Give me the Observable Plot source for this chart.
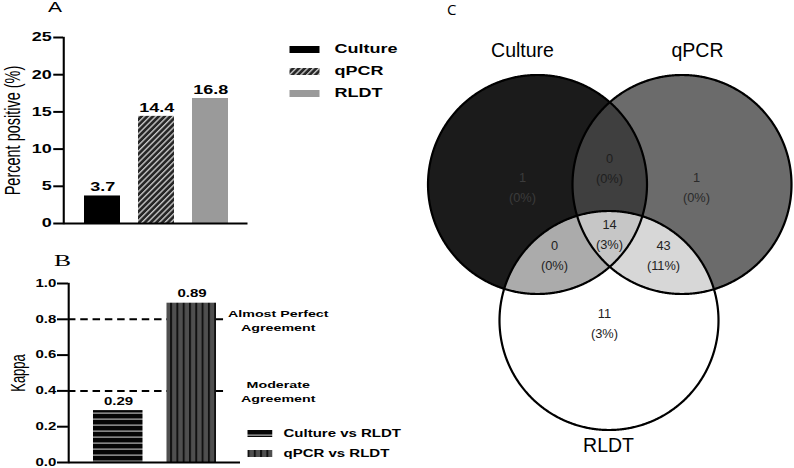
<!DOCTYPE html>
<html>
<head>
<meta charset="utf-8">
<script src="https://cdn.jsdelivr.net/npm/d3@7"></script>
<script src="https://cdn.jsdelivr.net/npm/@observablehq/plot@0.6"></script>
<style>
  html, body { margin: 0; padding: 0; background: #fff; }
  #page { position: relative; width: 794px; height: 468px; overflow: hidden; font-family: 'Liberation Sans', Arial, sans-serif; color: #000; }
  .stretch { position: absolute; left: 0; transform: scaleX(1.5); transform-origin: 0 0; }
  .abs { position: absolute; white-space: nowrap; }
  svg { overflow: visible; }
</style>
</head>
<body>
<div id="page">
  <div id="panelA" class="stretch" style="top:0; width:267px; height:240px;"></div>
  <div id="panelB" class="stretch" style="top:240px; width:267px; height:228px;"></div>
  <div id="panelC" style="position:absolute; left:400px; top:0; width:394px; height:468px;"></div>
</div>
<script>
// ---------------- DATA ----------------
const panelACategories = ["Culture", "qPCR", "RLDT"];
const panelAValues = [3.7, 14.4, 16.8];
const panelAYTicks = [0, 5, 10, 15, 20, 25];
const panelAYLabel = "Percent positive (%)";

const panelBCategories = ["Culture vs RLDT", "qPCR vs RLDT"];
const panelBValues = [0.29, 0.89];
const panelBYTicks = [0, 0.2, 0.4, 0.6, 0.8, 1.0];
const panelBYLabel = "Kappa";
const agreementThresholds = [0.8, 0.4];
const agreementLabels = ["Almost Perfect\nAgreement", "Moderate\nAgreement"];

const vennSets = ["Culture", "qPCR", "RLDT"];
const vennRegions = ["Culture", "Culture∩qPCR", "qPCR", "Culture∩RLDT", "Culture∩qPCR∩RLDT", "qPCR∩RLDT", "RLDT"];
const vennRegionMembers = [[0], [0, 1], [1], [0, 2], [0, 1, 2], [1, 2], [2]];
const vennCounts = [1, 0, 1, 0, 14, 43, 11];
const vennPercents = [0, 0, 0, 0, 3, 11, 3];

// ---------------- STYLES / LAYOUT ----------------
const FONT = "'Liberation Sans', Arial, sans-serif";
const fillsA = ["#000000", "url(#hatchA)", "#9a9a9a"];
const fillsB = ["url(#hstripeB)", "url(#vstripeB)"];
const vennFills = ["#1b1b1b", "#3f3f3f", "#6b6b6b", "#ababab", "#c6c6c6", "#d7d7d7", "#ffffff"];
const vennTextFill = ["#3c3c3c", "#1e1e1e", "#2a2a2a", "#222", "#222", "#222", "#222"];
const vennCircles = [{cx: 137, cy: 184}, {cx: 281.5, cy: 184}, {cx: 208.5, cy: 320}];
const vennR = 109.5;
const vennLabelXY = [[122, 185], [209, 166], [296, 185], [154, 253], [209, 232], [263, 253], [204, 321]];
const vennSetLabelXY = [[122, 50], [297, 50], [208, 445]];

const defs = `<defs>
  <pattern id="hatchA" patternUnits="userSpaceOnUse" width="3.2" height="10" patternTransform="rotate(33.7)">
    <rect width="3.2" height="10" fill="#262626"/><rect x="0" width="1.1" height="10" fill="#c4c4c4"/>
  </pattern>
  <pattern id="hstripeB" patternUnits="userSpaceOnUse" width="10" height="6">
    <rect width="10" height="6" fill="#050505"/><rect y="4.6" width="10" height="1" fill="#d8d8d8"/>
  </pattern>
  <pattern id="vstripeB" patternUnits="userSpaceOnUse" width="4.2" height="10">
    <rect width="4.2" height="10" fill="#4f4f4f"/><rect x="0" width="1.3" height="10" fill="#111"/>
  </pattern>
</defs>`;

// ---------------- PANEL A ----------------
const plotA = Plot.plot({
  width: 267, height: 240,
  marginLeft: 42, marginRight: 102, marginTop: 37, marginBottom: 17,
  style: {fontFamily: FONT, fontSize: "12px", color: "#000", background: "transparent", overflow: "visible"},
  x: {domain: panelACategories, paddingInner: 0.34, paddingOuter: 0.36, axis: null},
  y: {domain: [0, 25], axis: null},
  color: {type: "identity"},
  marks: [
    Plot.barY(panelACategories, {x: d => d, y: (d, i) => panelAValues[i], fill: (d, i) => fillsA[i]}),
    Plot.ruleY([0], {strokeWidth: 2}),
    Plot.frame({anchor: "left", strokeWidth: 1.4}),
    Plot.axisY({ticks: panelAYTicks, tickSize: 6.5, tickPadding: 1.5, strokeWidth: 2, fontSize: 12, fontWeight: "bold", label: null}),
    Plot.text(panelACategories, {x: d => d, y: (d, i) => panelAValues[i], text: (d, i) => String(panelAValues[i]), dy: -8.5, fontSize: 12, fontWeight: "bold"}),
    Plot.text([panelAYLabel], {text: d => d, frameAnchor: "left", textAnchor: "middle", dx: -33.5, rotate: -90, fontSize: 14.5})
  ]
});
plotA.insertAdjacentHTML("afterbegin", defs);
const panelA = document.getElementById("panelA");
panelA.appendChild(plotA);
plotA.style.position = "absolute"; plotA.style.left = "0"; plotA.style.top = "0";

function addText(parent, txt, left, top, css) {
  const d = document.createElement("div");
  d.className = "abs";
  d.textContent = txt;
  d.style.left = left + "px"; d.style.top = top + "px";
  Object.assign(d.style, css || {});
  parent.appendChild(d);
  return d;
}
function addSwatch(parent, fill, left, top, w, h) {
  const ns = "http://www.w3.org/2000/svg";
  const s = document.createElementNS(ns, "svg");
  s.setAttribute("width", w); s.setAttribute("height", h);
  s.style.position = "absolute"; s.style.left = left + "px"; s.style.top = top + "px";
  const r = document.createElementNS(ns, "rect");
  r.setAttribute("width", w); r.setAttribute("height", h); r.setAttribute("fill", fill);
  s.appendChild(r);
  parent.appendChild(s);
}
addText(panelA, "A", 32, 0, {fontSize: "14px", lineHeight: "14px", fontFamily: FONT});
const legARowY = [49.6, 71, 93.5];
panelACategories.forEach((c, i) => {
  addSwatch(panelA, fillsA[i], 193, legARowY[i] - 3.5, 20, 7);
  addText(panelA, c, 223, legARowY[i] - 7.5, {fontSize: "12px", fontWeight: "bold", fontFamily: FONT, lineHeight: "15px"});
});

// ---------------- PANEL B ----------------
const plotB = Plot.plot({
  width: 267, height: 228,
  marginLeft: 45.3, marginRight: 107, marginTop: 43, marginBottom: 6,
  style: {fontFamily: FONT, fontSize: "10px", color: "#000", background: "transparent", overflow: "visible"},
  x: {domain: panelBCategories, paddingInner: 0.325, paddingOuter: 0.32, axis: null},
  y: {domain: [0, 1], axis: null},
  color: {type: "identity"},
  marks: [
    Plot.ruleY(agreementThresholds, {strokeWidth: 2, strokeDasharray: "5,3.2", insetRight: 9}),
    Plot.barY(panelBCategories, {x: d => d, y: (d, i) => panelBValues[i], fill: (d, i) => fillsB[i]}),
    Plot.ruleY([0], {strokeWidth: 2}),
    Plot.frame({anchor: "left", strokeWidth: 1.4}),
    Plot.axisY({ticks: panelBYTicks, tickFormat: d3.format(".1f"), tickSize: 7.3, tickPadding: 1, strokeWidth: 2, fontSize: 10, fontWeight: "bold", label: null}),
    Plot.text(panelBCategories, {x: d => d, y: (d, i) => panelBValues[i], text: (d, i) => panelBValues[i].toFixed(2), dy: -9, fontSize: 10, fontWeight: "bold"}),
    Plot.text(agreementThresholds, {y: d => d, text: (d, i) => agreementLabels[i], frameAnchor: "right", dx: 25, textAnchor: "middle", lineAnchor: "middle", lineHeight: 1.45, fontSize: 9.5, fontWeight: "bold"}),
    Plot.text([panelBYLabel], {text: d => d, frameAnchor: "left", textAnchor: "middle", dx: -33, rotate: -90, fontSize: 13})
  ]
});
const panelB = document.getElementById("panelB");
panelB.appendChild(plotB);
plotB.style.position = "absolute"; plotB.style.left = "0"; plotB.style.top = "0";
addText(panelB, "B", 36, 12, {fontSize: "17px", lineHeight: "17px", fontFamily: "'Liberation Serif', 'DejaVu Serif', serif"});
const legBRowY = [193, 213];
panelBCategories.forEach((c, i) => {
  addSwatch(panelB, fillsB[i], 165, legBRowY[i] - 3.5, 16.5, 7);
  addText(panelB, c, 189, legBRowY[i] - 6.5, {fontSize: "10px", fontWeight: "bold", fontFamily: FONT, lineHeight: "13px"});
});

// ---------------- PANEL C (Venn) ----------------
const N = 720;
function circlePts(i) {
  const c = vennCircles[i];
  return d3.range(N).map(k => {
    const a = 2 * Math.PI * k / N;
    return [c.cx + vennR * Math.cos(a), c.cy + vennR * Math.sin(a)];
  });
}
function inside(p, j) {
  const c = vennCircles[j];
  return Math.hypot(p[0] - c.cx, p[1] - c.cy) <= vennR + 1e-6;
}
function regionPoly(members) {
  if (members.length === 1) return circlePts(members[0]);
  const pts = members.flatMap(i => circlePts(i).filter(p => members.every(j => j === i || inside(p, j))));
  const mx = d3.mean(pts, p => p[0]), my = d3.mean(pts, p => p[1]);
  return pts.sort((a, b) => Math.atan2(a[1] - my, a[0] - mx) - Math.atan2(b[1] - my, b[0] - mx));
}
const drawOrder = [0, 2, 6, 1, 3, 5, 4];
const vennMarks = drawOrder.map(r => Plot.line(regionPoly(vennRegionMembers[r]), {
  x: d => d[0], y: d => d[1], fill: vennFills[r], stroke: "none", curve: "linear-closed"
}));
const outlineMarks = vennSets.map((s, i) => Plot.line(circlePts(i), {
  x: d => d[0], y: d => d[1], stroke: "#000", strokeWidth: 2.2, fill: "none", curve: "linear-closed"
}));
const regionIdx = d3.range(vennRegions.length);
const plotC = Plot.plot({
  width: 394, height: 468,
  margin: 0,
  style: {fontFamily: FONT, color: "#000", background: "transparent", overflow: "visible"},
  x: {domain: [0, 394], range: [0, 394], axis: null},
  y: {domain: [0, 468], range: [0, 468], axis: null},
  marks: [
    ...vennMarks,
    ...outlineMarks,
    Plot.text(regionIdx, {
      x: i => vennLabelXY[i][0], y: i => vennLabelXY[i][1],
      text: i => `${vennCounts[i]}\n(${vennPercents[i]}%)`,
      fill: i => vennTextFill[i], fontSize: 12.8, lineHeight: 1.55, lineAnchor: "middle"
    }),
    Plot.text(vennSets, {
      x: (d, i) => vennSetLabelXY[i][0], y: (d, i) => vennSetLabelXY[i][1],
      text: d => d, fontSize: 19.5
    })
  ],
  color: {type: "identity"}
});
const panelC = document.getElementById("panelC");
panelC.appendChild(plotC);
plotC.style.position = "absolute"; plotC.style.left = "0"; plotC.style.top = "0";
addText(panelC, "C", 47, 2, {fontSize: "15px", lineHeight: "15px", fontFamily: "'Open Sans', 'Liberation Sans', sans-serif"});
</script>
</body>
</html>
